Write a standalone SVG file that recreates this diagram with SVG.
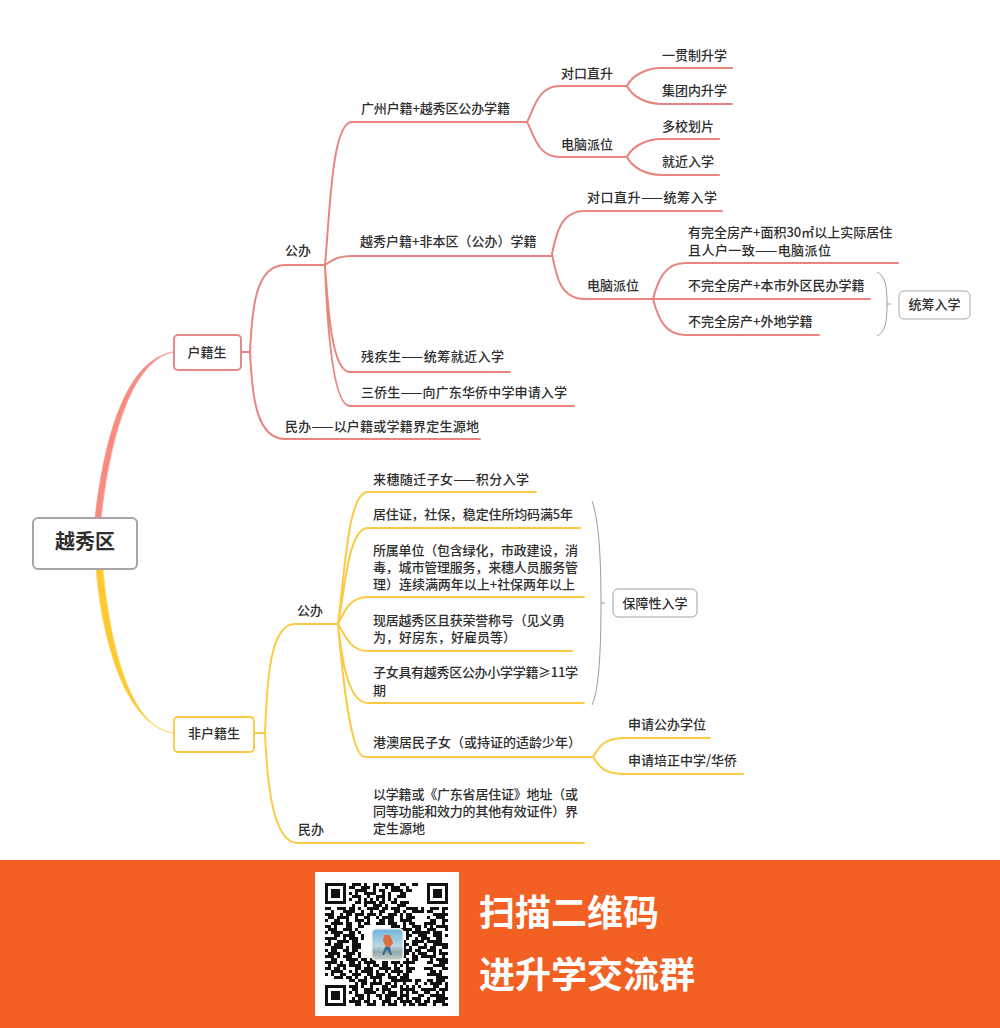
<svg xmlns="http://www.w3.org/2000/svg" width="1000" height="1028" viewBox="0 0 1000 1028">
<style>
text{font-family:"Noto Sans CJK SC","Liberation Sans",sans-serif;font-size:13px;font-weight:500;fill:#2e2e2e}
.c{text-anchor:middle}
.r{fill:none;stroke:#e8857f;stroke-width:2;stroke-linecap:round}
.y{fill:none;stroke:#fbcb45;stroke-width:2;stroke-linecap:round}
.b{fill:none;stroke:#9a9a9a;stroke-width:1}
.box{fill:#fff;stroke-width:2}
.qr{fill:none;stroke:#111;stroke-width:3}
.fin{fill:none;stroke:#111;stroke-width:3}
.big{font-size:36px;font-weight:700;fill:#fff}
</style>
<rect width="1000" height="1028" fill="#fff"/>
<g id="connectors">
<path d="M95 518C104 440 125 360 173 352C130 362 110 440 101 518Z" fill="#f98a80" stroke="#f0a09a" stroke-width=".8"/>
<path d="M96 569C102 640 125 725 173 733C130 727 110 645 103 569Z" fill="#fdc92f" stroke="#fbd873" stroke-width=".8"/>
<path class="r" d="M241 352H250M250 352C252 310 255 265 285 265H325M250 352C252 395 256 439 285 439H480"/>
<path class="r" d="M325 265C330 210 332 122 352 122H527M325 265C330 262 335 256 352 256H552M325 265C328 310 332 372 350 372H510M325 265C327 320 332 406 350 406H574"/>
<path class="r" d="M527 122C534 110 537 86 560 86H627M527 122C534 134 537 157 560 157H627"/>
<path class="r" d="M627 86C632 76 645 68 662 68H732M627 86C632 96 645 104 662 104H732M627 157C632 147 645 139 662 139H719M627 157C632 167 645 175 662 175H719"/>
<path class="r" d="M552 254C556 235 560 211 585 211H722M552 254C556 275 560 299 585 299H653"/>
<path class="r" d="M653 299C658 280 665 263 685 263H898M653 299H870M653 299C658 318 665 335 685 335H819"/>
<path class="y" d="M254 733H265M265 733C267 680 270 624 295 624H338M265 733C267 780 272 843 298 843H584"/>
<path class="y" d="M338 624C345 570 348 492 368 492H536M338 624C345 590 348 528 368 528H580M338 624C345 610 350 597 368 597H584M338 624C345 635 350 651 368 651H572M338 624C342 660 348 703 368 703H584M338 624C342 670 350 757 365 757H593"/>
<path class="y" d="M593 757C600 745 605 738 625 738H710M593 757C600 768 605 774 625 774H743"/>
<path class="b" d="M877 272C885 276 887 285 887 304C887 323 885 332 877 336M887 304H891"/>
<path class="b" d="M592 501C599 520 601 560 601 603C601 650 599 690 592 705M601 603H605"/>
</g>
<g id="root"><rect class="box" x="33" y="518" width="104" height="51" rx="5" stroke="#a8a4a8"/><text class="c" x="85" y="549" style="font-size:20px;font-weight:700">越秀区</text></g>
<g id="huji"><rect class="box" x="174" y="335" width="67" height="35" rx="4" stroke="#e58a8a"/><text class="c" x="207" y="357">户籍生</text></g>
<g id="feihuji"><rect class="box" x="174" y="717" width="80" height="35" rx="4" stroke="#fbcb45"/><text class="c" x="214" y="738">非户籍生</text></g>
<g id="n1"><text x="285" y="255">公办</text></g>
<g id="n2"><text x="285" y="431" textLength="194">民办——以户籍或学籍界定生源地</text></g>
<g id="n3"><text x="361" y="113" textLength="149">广州户籍+越秀区公办学籍</text></g>
<g id="n4"><text x="561" y="78">对口直升</text></g>
<g id="n5"><text x="561" y="149">电脑派位</text></g>
<g id="n6"><text x="662" y="60">一贯制升学</text></g>
<g id="n7"><text x="662" y="95">集团内升学</text></g>
<g id="n8"><text x="662" y="131">多校划片</text></g>
<g id="n9"><text x="662" y="166">就近入学</text></g>
<g id="n10"><text x="360" y="246">越秀户籍+非本区（公办）学籍</text></g>
<g id="n11"><text x="587" y="202" textLength="130">对口直升——统筹入学</text></g>
<g id="n12"><text x="587" y="290">电脑派位</text></g>
<g id="n13"><text x="688" y="237">有完全房产+面积30㎡以上实际居住</text><text x="688" y="255" textLength="143">且人户一致——电脑派位</text></g>
<g id="n14"><text x="688" y="290">不完全房产+本市外区民办学籍</text></g>
<g id="n15"><text x="688" y="326">不完全房产+外地学籍</text></g>
<g id="n16"><rect x="899" y="291" width="71" height="28" rx="5" fill="#fff" stroke="#a9a9a9"/><text class="c" x="934.500" y="309">统筹入学</text></g>
<g id="n17"><text x="361" y="361" textLength="143">残疾生——统筹就近入学</text></g>
<g id="n18"><text x="361" y="397" textLength="206">三侨生——向广东华侨中学申请入学</text></g>
<g id="n19"><text x="297" y="615">公办</text></g>
<g id="n20"><text x="373" y="484" textLength="156">来穗随迁子女——积分入学</text></g>
<g id="n21"><text x="373" y="519" textLength="200">居住证，社保，稳定住所均码满5年</text></g>
<g id="n22"><text x="373" y="555" textLength="205">所属单位（包含绿化，市政建设，消</text><text x="373" y="572" textLength="205">毒，城市管理服务，来穗人员服务管</text><text x="373" y="589" textLength="202">理）连续满两年以上+社保两年以上</text></g>
<g id="n23"><text x="373" y="625" textLength="192">现居越秀区且获荣誉称号（见义勇</text><text x="373" y="642">为，好房东，好雇员等）</text></g>
<g id="n24"><text x="373" y="677" textLength="205">子女具有越秀区公办小学学籍≥11学</text><text x="373" y="695">期</text></g>
<g id="n25"><rect x="613" y="589" width="84" height="28" rx="5" fill="#fff" stroke="#9aa5a5"/><text class="c" x="655" y="608">保障性入学</text></g>
<g id="n26"><text x="373" y="747">港澳居民子女（或持证的适龄少年）</text></g>
<g id="n27"><text x="628" y="729">申请公办学位</text></g>
<g id="n28"><text x="628" y="765">申请培正中学/华侨</text></g>
<g id="n29"><text x="298" y="834">民办</text></g>
<g id="n30"><text x="373" y="799" textLength="205">以学籍或《广东省居住证》地址（或</text><text x="373" y="816" textLength="205">同等功能和效力的其他有效证件）界</text><text x="373" y="833">定生源地</text></g>
<rect x="0" y="860" width="1000" height="168" fill="#f26123"/>
<rect x="315" y="872" width="144" height="144" fill="#fff"/>
<g id="qr">
<path class="fin" d="M326.500 884.500h18v18h-18zM428.500 884.500h18v18h-18zM326.500 986.500h18v18h-18z"/>
<path d="M331 889h9v9h-9zM433 889h9v9h-9zM331 991h9v9h-9z" fill="#111"/>
<path class="qr" d="M352 884.500h9m3 0h3m6 0h6m3 0h12m6 0h6m6 0h6
M349 887.500h6m6 0h9m3 0h3m9 0h3m3 0h9m6 0h3
M355 890.500h12m6 0h3m3 0h6m6 0h12m3 0h6
M349 893.500h3m3 0h3m6 0h12m6 0h3m3 0h3m9 0h6
M352 896.500h9m6 0h3m6 0h9m3 0h3m6 0h9
M349 899.500h3m6 0h3m3 0h3m3 0h3m3 0h3m3 0h3m3 0h3m3 0h3
M355 902.500h6m3 0h12m3 0h6m6 0h6m3 0h9
M352 905.500h3m9 0h3m6 0h9m3 0h3m9 0h9
M325 908.500h6m6 0h9m3 0h6m3 0h3m6 0h12m3 0h6m3 0h9m6 0h12m3 0h3
M331 911.500h3m9 0h12m6 0h3m6 0h3m6 0h6m9 0h6m3 0h3m6 0h12
M325 914.500h9m6 0h3m3 0h6m3 0h9m3 0h9m3 0h3m6 0h9m3 0h3m3 0h6
M328 917.500h6m3 0h12m6 0h3m6 0h6m6 0h3m3 0h12m6 0h3m3 0h9
M325 920.500h3m6 0h6m6 0h3m6 0h9m3 0h3m9 0h6m3 0h6m6 0h12
M331 923.500h12m3 0h6m6 0h3m3 0h6m6 0h9m3 0h9m6 0h3m3 0h6
M325 926.500h6m3 0h3m9 0h6m6 0h6m27 0h9m3 0h3m6 0h9m3 0h3
M328 929.500h9m6 0h9m3 0h3m36 0h3m3 0h12m3 0h6
M325 932.500h3m3 0h12m6 0h6m3 0h3m33 0h6m6 0h3m3 0h12m3 0h3
M334 935.500h6m3 0h12m6 0h3m30 0h9m3 0h6m6 0h9
M325 938.500h12m6 0h3m3 0h9m3 0h3m33 0h3m6 0h3m6 0h3m3 0h9
M328 941.500h3m6 0h12m3 0h6m39 0h9m6 0h12m3 0h3
M325 944.500h6m3 0h9m9 0h9m36 0h3m3 0h6m3 0h6m6 0h3
M331 947.500h12m3 0h3m3 0h9m33 0h12m3 0h3m6 0h9
M325 950.500h3m3 0h6m6 0h6m3 0h6m36 0h3m6 0h9m3 0h6
M328 953.500h12m6 0h9m3 0h3m33 0h6m3 0h6m3 0h3m3 0h9
M325 956.500h9m3 0h3m3 0h9m6 0h3m33 0h12m6 0h6m3 0h3
M331 959.500h6m9 0h12m3 0h6m3 0h9m3 0h3m9 0h6m6 0h3m3 0h6
M325 962.500h12m3 0h3m6 0h6m3 0h3m3 0h12m6 0h6m3 0h9m3 0h12
M328 965.500h3m6 0h9m3 0h12m6 0h3m3 0h6m3 0h6m6 0h3m3 0h3m3 0h3
M325 968.500h6m3 0h6m3 0h3m9 0h6m3 0h9m6 0h12m3 0h6m6 0h9
M331 971.500h12m6 0h3m3 0h3m3 0h12m3 0h3m6 0h3m3 0h12m3 0h6
M325 974.500h3m3 0h3m6 0h6m6 0h9m6 0h6m3 0h9m3 0h3m6 0h3m3 0h6
M334 977.500h9m3 0h6m3 0h3m6 0h3m3 0h12m6 0h9m3 0h9
M349 980.500h6m3 0h9m6 0h3m3 0h3m9 0h21m3 0h6
M355 983.500h3m3 0h6m3 0h12m3 0h6m3 0h3m6 0h3m9 0h3
M349 986.500h9m3 0h3m6 0h3m9 0h6m3 0h6m3 0h3m3 0h3m3 0h3m3 0h3
M352 989.500h6m6 0h9m3 0h3m3 0h9m9 0h15m6 0h6
M349 992.500h3m3 0h3m6 0h12m6 0h3m3 0h9m3 0h3m3 0h3m3 0h6
M355 995.500h9m3 0h3m6 0h6m3 0h12m3 0h9m9 0h6
M352 998.500h3m3 0h6m3 0h3m9 0h3m3 0h6m6 0h6m3 0h3m3 0h9
M349 1001.500h12m3 0h6m3 0h3m6 0h9m3 0h3m3 0h12m3 0h6
M355 1004.500h6m6 0h9m6 0h3m3 0h9m6 0h3m3 0h6m3 0h9
M430 908.500h9m3 0h6M427 911.500h6m9 0h3M433 914.500h15M427 917.500h3m6 0h9M430 920.500h6m6 0h6M424 923.500h12m6 0h3M430 926.500h3m3 0h12M427 929.500h9m9 0h3M424 932.500h6m3 0h9M433 935.500h9m3 0h3M427 938.500h3m6 0h6M430 941.500h12M424 944.500h3m6 0h15M430 947.500h6m6 0h6M427 950.500h9m3 0h3M433 953.500h3m3 0h9M424 956.500h12m6 0h3M430 959.500h3m3 0h12M427 962.500h6m6 0h9M433 965.500h12M424 968.500h9m9 0h6M430 971.500h6m3 0h3M427 974.500h15M436 977.500h12
M427 980.500h6m3 0h9M424 983.500h3m3 0h12m3 0h3M433 986.500h6m6 0h3M427 989.500h9m3 0h9M424 992.500h6m6 0h3m3 0h3M430 995.500h15M427 998.500h3m6 0h12M424 1001.500h6m3 0h12M433 1004.500h3m6 0h6"/>
<defs><linearGradient id="sky" x1="0" y1="0" x2="0" y2="1"><stop offset="0" stop-color="#6fb6dc"/><stop offset=".55" stop-color="#bcd6e2"/><stop offset=".75" stop-color="#8fa9ad"/><stop offset="1" stop-color="#c8ccc4"/></linearGradient></defs>
<rect x="371" y="928" width="33" height="33" rx="5" fill="#f4f4f0"/>
<rect x="372.500" y="929.500" width="30" height="30" rx="4" fill="url(#sky)"/>
<path d="M384 935h6l3 8-3 4h-4l-3-6z" fill="#d9703f"/>
<path d="M385 947h5l2 8h-2l-3-5-3 5h-2z" fill="#3b6f8f"/>
</g>
<g id="banner-text"><text class="big" x="479" y="926">扫描二维码</text><text class="big" x="479" y="988">进升学交流群</text></g>
</svg>
